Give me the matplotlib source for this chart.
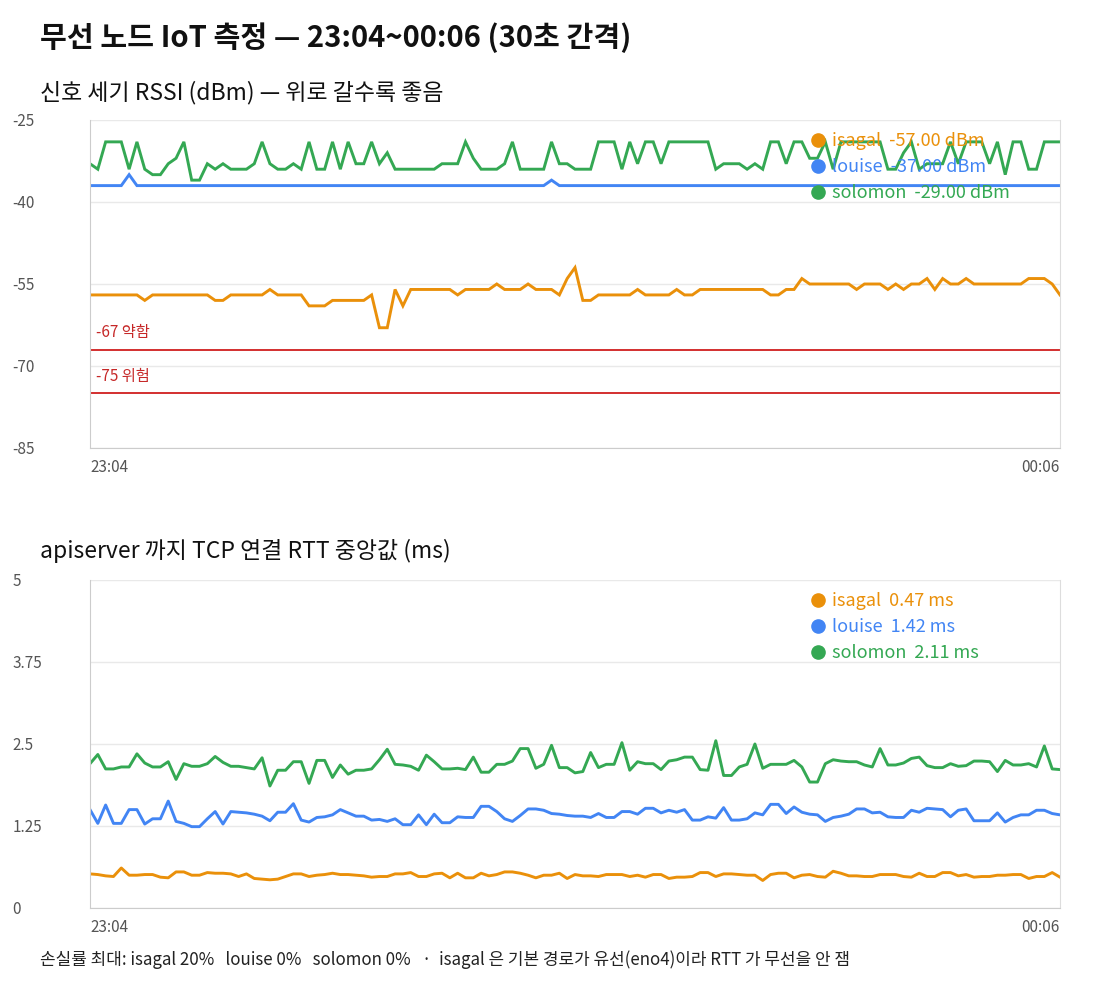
#!/usr/bin/env python3
"""
Wireless IoT node measurements: RSSI and TCP RTT, 23:04 ~ 00:06, 30 s interval.
"""

import numpy as np
import matplotlib
matplotlib.use("Agg")
import matplotlib.pyplot as plt
from matplotlib.lines import Line2D

plt.rcParams['font.family'] = ['Noto Sans CJK KR', 'DejaVu Sans']
plt.rcParams['axes.unicode_minus'] = False

# ---- data ----
nodes = ['isagal', 'louise', 'solomon']
colors = ['#EA900A', '#4285F4', '#34A853']
time_labels = ['23:04', '00:06']
step_min = 0.5

rssi_isagal = ([-57] * 7 + [-58] + [-57] * 8 + [-58] * 2 + [-57] * 5 + [-56] + [-57] * 4
               + [-59] * 3 + [-58] * 5 + [-57] + [-63] * 2 + [-56] + [-59] + [-56] * 6
               + [-57] + [-56] * 4 + [-55] + [-56] * 3 + [-55] + [-56] * 3 + [-57]
               + [-54] + [-52] + [-58] * 2 + [-57] * 5 + [-56] + [-57] * 4 + [-56]
               + [-57] * 2 + [-56] * 9 + [-57] * 2 + [-56] * 2 + [-54] + [-55] * 6
               + [-56] + [-55] * 3 + [-56] + [-55] + [-56] + [-55] * 2 + [-54] + [-56]
               + [-54] + [-55] * 2 + [-54] + [-55] * 7 + [-54] * 3 + [-55] + [-57])

rssi_louise = [-37] * 5 + [-35] + [-37] * 53 + [-36] + [-37] * 65

rssi_solomon = [-33, -34, -29, -29, -29, -34, -29, -34, -35, -35,
                -33, -32, -29, -36, -36, -33, -34, -33, -34, -34,
                -34, -33, -29, -33, -34, -34, -33, -34, -29, -34,
                -34, -29, -34, -29, -33, -33, -29, -33, -31, -34,
                -34, -34, -34, -34, -34, -33, -33, -33, -29, -32,
                -34, -34, -34, -33, -29, -34, -34, -34, -34, -29,
                -33, -33, -34, -34, -34, -29, -29, -29, -34, -29,
                -33, -29, -29, -33, -29, -29, -29, -29, -29, -29,
                -34, -33, -33, -33, -34, -33, -34, -29, -29, -33,
                -29, -29, -32, -32, -29, -34, -29, -29, -29, -29,
                -29, -29, -34, -34, -31, -29, -34, -33, -33, -33,
                -29, -33, -29, -29, -29, -33, -29, -35, -29, -29,
                -34, -34, -29, -29, -29]

rtt_isagal = [0.52, 0.51, 0.49, 0.48, 0.61, 0.50, 0.50, 0.51, 0.51, 0.47,
              0.46, 0.55, 0.55, 0.50, 0.50, 0.54, 0.53, 0.53, 0.52, 0.48,
              0.52, 0.45, 0.44, 0.43, 0.44, 0.48, 0.52, 0.52, 0.48, 0.50,
              0.51, 0.53, 0.51, 0.51, 0.50, 0.49, 0.47, 0.48, 0.48, 0.52,
              0.52, 0.54, 0.48, 0.48, 0.52, 0.53, 0.46, 0.53, 0.46, 0.46,
              0.53, 0.49, 0.51, 0.55, 0.55, 0.53, 0.50, 0.46, 0.50, 0.50,
              0.53, 0.45, 0.51, 0.49, 0.49, 0.48, 0.51, 0.51, 0.51, 0.48,
              0.50, 0.47, 0.51, 0.51, 0.45, 0.47, 0.47, 0.48, 0.54, 0.54,
              0.48, 0.52, 0.52, 0.51, 0.50, 0.50, 0.42, 0.51, 0.53, 0.53,
              0.46, 0.50, 0.51, 0.48, 0.47, 0.56, 0.53, 0.49, 0.49, 0.48,
              0.48, 0.51, 0.51, 0.51, 0.48, 0.47, 0.53, 0.48, 0.48, 0.54,
              0.54, 0.49, 0.51, 0.47, 0.48, 0.48, 0.50, 0.50, 0.51, 0.51,
              0.45, 0.48, 0.48, 0.54, 0.47]

rtt_louise = [1.50, 1.29, 1.57, 1.29, 1.29, 1.50, 1.50, 1.28, 1.36, 1.36,
              1.63, 1.32, 1.29, 1.24, 1.24, 1.36, 1.47, 1.28, 1.47, 1.46,
              1.45, 1.43, 1.40, 1.33, 1.46, 1.46, 1.59, 1.34, 1.31, 1.38,
              1.39, 1.42, 1.50, 1.45, 1.40, 1.40, 1.34, 1.35, 1.32, 1.36,
              1.27, 1.27, 1.42, 1.27, 1.43, 1.30, 1.30, 1.39, 1.38, 1.38,
              1.55, 1.55, 1.47, 1.36, 1.32, 1.41, 1.51, 1.51, 1.49, 1.44,
              1.43, 1.41, 1.40, 1.40, 1.38, 1.44, 1.38, 1.38, 1.47, 1.47,
              1.43, 1.52, 1.52, 1.45, 1.49, 1.46, 1.50, 1.34, 1.34, 1.39,
              1.37, 1.53, 1.34, 1.34, 1.36, 1.45, 1.42, 1.58, 1.58, 1.44,
              1.54, 1.46, 1.43, 1.42, 1.32, 1.38, 1.40, 1.43, 1.51, 1.51,
              1.45, 1.46, 1.39, 1.38, 1.38, 1.49, 1.46, 1.52, 1.51, 1.50,
              1.39, 1.49, 1.51, 1.33, 1.33, 1.33, 1.45, 1.31, 1.38, 1.42,
              1.42, 1.49, 1.49, 1.44, 1.42]

rtt_solomon = [2.20, 2.34, 2.12, 2.12, 2.15, 2.15, 2.35, 2.21, 2.15, 2.15,
               2.23, 1.96, 2.20, 2.16, 2.16, 2.20, 2.31, 2.22, 2.16, 2.16,
               2.14, 2.12, 2.29, 1.86, 2.10, 2.10, 2.23, 2.23, 1.90, 2.25,
               2.25, 1.99, 2.18, 2.04, 2.10, 2.10, 2.12, 2.26, 2.42, 2.19,
               2.18, 2.16, 2.10, 2.33, 2.23, 2.12, 2.12, 2.13, 2.11, 2.30,
               2.07, 2.07, 2.19, 2.19, 2.24, 2.43, 2.43, 2.13, 2.19, 2.48,
               2.14, 2.14, 2.06, 2.08, 2.37, 2.14, 2.19, 2.19, 2.52, 2.10,
               2.23, 2.20, 2.20, 2.11, 2.24, 2.26, 2.30, 2.30, 2.11, 2.10,
               2.55, 2.02, 2.02, 2.15, 2.19, 2.50, 2.13, 2.19, 2.19, 2.19,
               2.25, 2.15, 1.92, 1.92, 2.20, 2.26, 2.24, 2.23, 2.23, 2.18,
               2.15, 2.43, 2.18, 2.18, 2.21, 2.28, 2.30, 2.17, 2.14, 2.14,
               2.20, 2.16, 2.17, 2.24, 2.24, 2.23, 2.08, 2.25, 2.18, 2.18,
               2.20, 2.15, 2.47, 2.12, 2.11]

rssi_ticks = [-25, -40, -55, -70, -85]
rtt_ticks = [0, 1.25, 2.5, 3.75, 5]
rtt_tick_labels = ['0', '1.25', '2.5', '3.75', '5']
thresholds = [-67, -75]
threshold_labels = ['-67 약함', '-75 위험']
loss_pct = [20, 0, 0]

W, H = 1100, 1000


def px_axes(fig, left, top, right, bottom):
    """Add axes from pixel box."""
    return fig.add_axes([left / W, 1 - bottom / H, (right - left) / W, (bottom - top) / H])


def style_axes(ax, ticks, labels, ylim, xmax):
    ax.set_xlim(0, xmax)
    ax.set_ylim(*ylim)
    ax.set_yticks(ticks)
    ax.set_yticklabels(labels)
    ax.tick_params(axis='y', length=0, pad=56, labelsize=11, labelcolor='#555555')
    for lab in ax.get_yticklabels():
        lab.set_horizontalalignment('left')
    ax.set_xticks([0, xmax])
    ax.set_xticklabels(time_labels)
    ax.tick_params(axis='x', length=0, pad=8, labelsize=11, labelcolor='#555555')
    xl = ax.get_xticklabels()
    xl[0].set_horizontalalignment('left')
    xl[1].set_horizontalalignment('right')
    ax.grid(axis='y', color='#e9e9e9', linewidth=1)
    ax.set_axisbelow(True)
    ax.spines['top'].set_visible(False)
    ax.spines['left'].set_color('#cccccc')
    ax.spines['right'].set_color('#dddddd')
    ax.spines['bottom'].set_color('#cccccc')


def add_legend(ax, labels):
    handles = [Line2D([], [], marker='o', linestyle='none', color=c, markersize=9.5)
               for c in colors]
    ax.legend(handles, labels, loc='upper left', bbox_to_anchor=(0.738, 0.985),
              frameon=False, fontsize=13, labelcolor=colors, handlelength=0.6,
              handletextpad=0.45, labelspacing=0.45, borderaxespad=0)


def main():
    rssi = [rssi_isagal, rssi_louise, rssi_solomon]
    rtt = [rtt_isagal, rtt_louise, rtt_solomon]
    n = len(rssi_solomon)
    x = np.arange(n) * step_min
    xmax = x[-1]

    fig = plt.figure(figsize=(W / 100, H / 100), dpi=100)
    fig.text(40 / W, 1 - 38 / H, '무선 노드 IoT 측정 — 23:04~00:06 (30초 간격)',
             fontsize=21, fontweight='bold', va='center', color='#111111')

    # RSSI panel
    fig.text(40 / W, 1 - 93 / H, '신호 세기 RSSI (dBm) — 위로 갈수록 좋음',
             fontsize=16.5, va='center', color='#111111')
    ax1 = px_axes(fig, 90, 120, 1060, 448)
    for vals, c in zip(rssi, colors):
        ax1.plot(x, vals, color=c, linewidth=2.1, solid_joinstyle='miter')
    for thr, lab in zip(thresholds, threshold_labels):
        ax1.axhline(thr, color='#D32F2F', linewidth=1.4)
        ax1.annotate(lab, xy=(0, thr), xytext=(4, 6), textcoords='offset points',
                     color='#C62828', fontsize=11, va='bottom', ha='left')
    style_axes(ax1, rssi_ticks, [str(t) for t in rssi_ticks], (-85, -25), xmax)
    add_legend(ax1, [f'{nm}  {v[-1]:.2f} dBm' for nm, v in zip(nodes, rssi)])

    # RTT panel
    fig.text(40 / W, 1 - 551 / H, 'apiserver 까지 TCP 연결 RTT 중앙값 (ms)',
             fontsize=16.5, va='center', color='#111111')
    ax2 = px_axes(fig, 90, 580, 1060, 908)
    for vals, c in zip(rtt, colors):
        ax2.plot(x, vals, color=c, linewidth=2.1)
    style_axes(ax2, rtt_ticks, rtt_tick_labels, (0, 5), xmax)
    add_legend(ax2, [f'{nm}  {v[-1]:.2f} ms' for nm, v in zip(nodes, rtt)])

    loss = '   '.join(f'{nm} {p}%' for nm, p in zip(nodes, loss_pct))
    fig.text(40 / W, 1 - 960 / H,
             f'손실률 최대: {loss}   ·  isagal 은 기본 경로가 유선(eno4)이라 RTT 가 무선을 안 잼',
             fontsize=12.2, va='center', color='#222222')

    fig.savefig('out.png', dpi=100)


if __name__ == "__main__":
    main()
